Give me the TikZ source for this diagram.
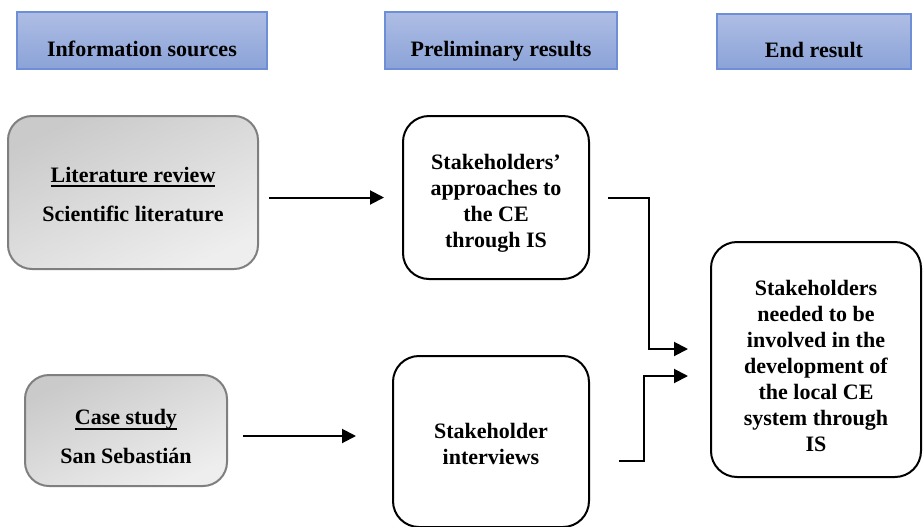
\documentclass[tikz,border=0pt]{standalone}
\usepackage{fontspec}
\setmainfont{Liberation Serif}
\usetikzlibrary{arrows.meta}

\definecolor{headtop}{HTML}{AEBDE4}
\definecolor{headbot}{HTML}{8BA3D8}
\definecolor{headline}{HTML}{6E8FD6}
\definecolor{srctop}{HTML}{CACACA}
\definecolor{srcbot}{HTML}{EEEEEE}
\definecolor{srcline}{HTML}{7F7F7F}

% underline as in the source figure, and a strut to push text down
\newcommand\undertext[1]{\setbox0\hbox{#1}\rlap{\rule[-2.4pt]{\wd0}{1pt}}\box0}
\newcommand\lift[1]{\rule{0pt}{#1}}

\tikzset{
  boxfont/.style={font=\fontsize{11}{13}\selectfont\bfseries},
  header/.style={boxfont, draw=headline, line width=0.7pt, top color=headtop,
    bottom color=headbot, text height=15.5pt, text depth=0pt, inner sep=0pt},
  source/.style={boxfont, draw=srcline, line width=1pt, rounded corners=12pt,
    top color=srctop, bottom color=srcbot, shading angle=25, align=center, inner sep=0pt},
  result/.style={boxfont, draw, line width=1pt, rounded corners=13pt, fill=white,
    align=center, inner sep=0pt},
  link/.style={line width=1pt, -{Triangle[length=7pt,width=7pt]}}
}

\begin{document}
\begin{tikzpicture}[x=0.5pt,y=-0.5pt]
 \useasboundingbox (0,0) rectangle (923,526);

 % column headers
 \node[header, minimum width=125pt, minimum height=28.5pt] (srchead) at (142,40.5) {Information sources};
 \node[header, minimum width=116pt, minimum height=28.5pt] (prelhead) at (501,40.5) {Preliminary results};
 \node[header, minimum width=97pt, minimum height=27.5pt] (endhead) at (814,41.5) {End result};

 % information sources
 \node[source, minimum width=125pt, minimum height=76.5pt] (litrev) at (133,192.5)
   {\lift{9.5pt}\undertext{Literature review}\\[6.5pt] Scientific literature};
 \node[source, minimum width=101pt, minimum height=55.5pt] (casestudy) at (126,430.5)
   {\lift{14pt}\undertext{Case study}\\[6.5pt] San Sebastián};

 % preliminary results
 \node[result, minimum width=93pt, minimum height=81.5pt] (approach) at (496,197.5)
   {\lift{13.5pt}Stakeholders’\\approaches to\\the CE\\through IS};
 \node[result, minimum width=98pt, minimum height=85.5pt] (interview) at (491,441.5)
   {\lift{10.5pt}Stakeholder\\interviews};

 % end result
 \node[result, minimum width=105pt, minimum height=117.5pt] (endres) at (816,359.5)
   {\lift{14.5pt}Stakeholders\\needed to be\\involved in the\\development of\\the local CE\\system through\\IS};

 \draw[link] ([xshift=5pt]litrev.east |- approach.west) -- ([xshift=-9pt]approach.west);
 \draw[link] ([xshift=7.5pt,yshift=-2.75pt]casestudy.east) -- ([xshift=-18pt,yshift=-2.75pt]casestudy.east -| interview.west);
 \draw[link] ([xshift=9pt]approach.east) -- ++(41,0) |- ([xshift=-11pt,yshift=5.25pt]endres.west);
 \draw[link] ([xshift=14.5pt,yshift=-9.5pt]interview.east) -- ++(25,0) |- ([xshift=-11pt,yshift=-8.25pt]endres.west);

\end{tikzpicture}
\end{document}
